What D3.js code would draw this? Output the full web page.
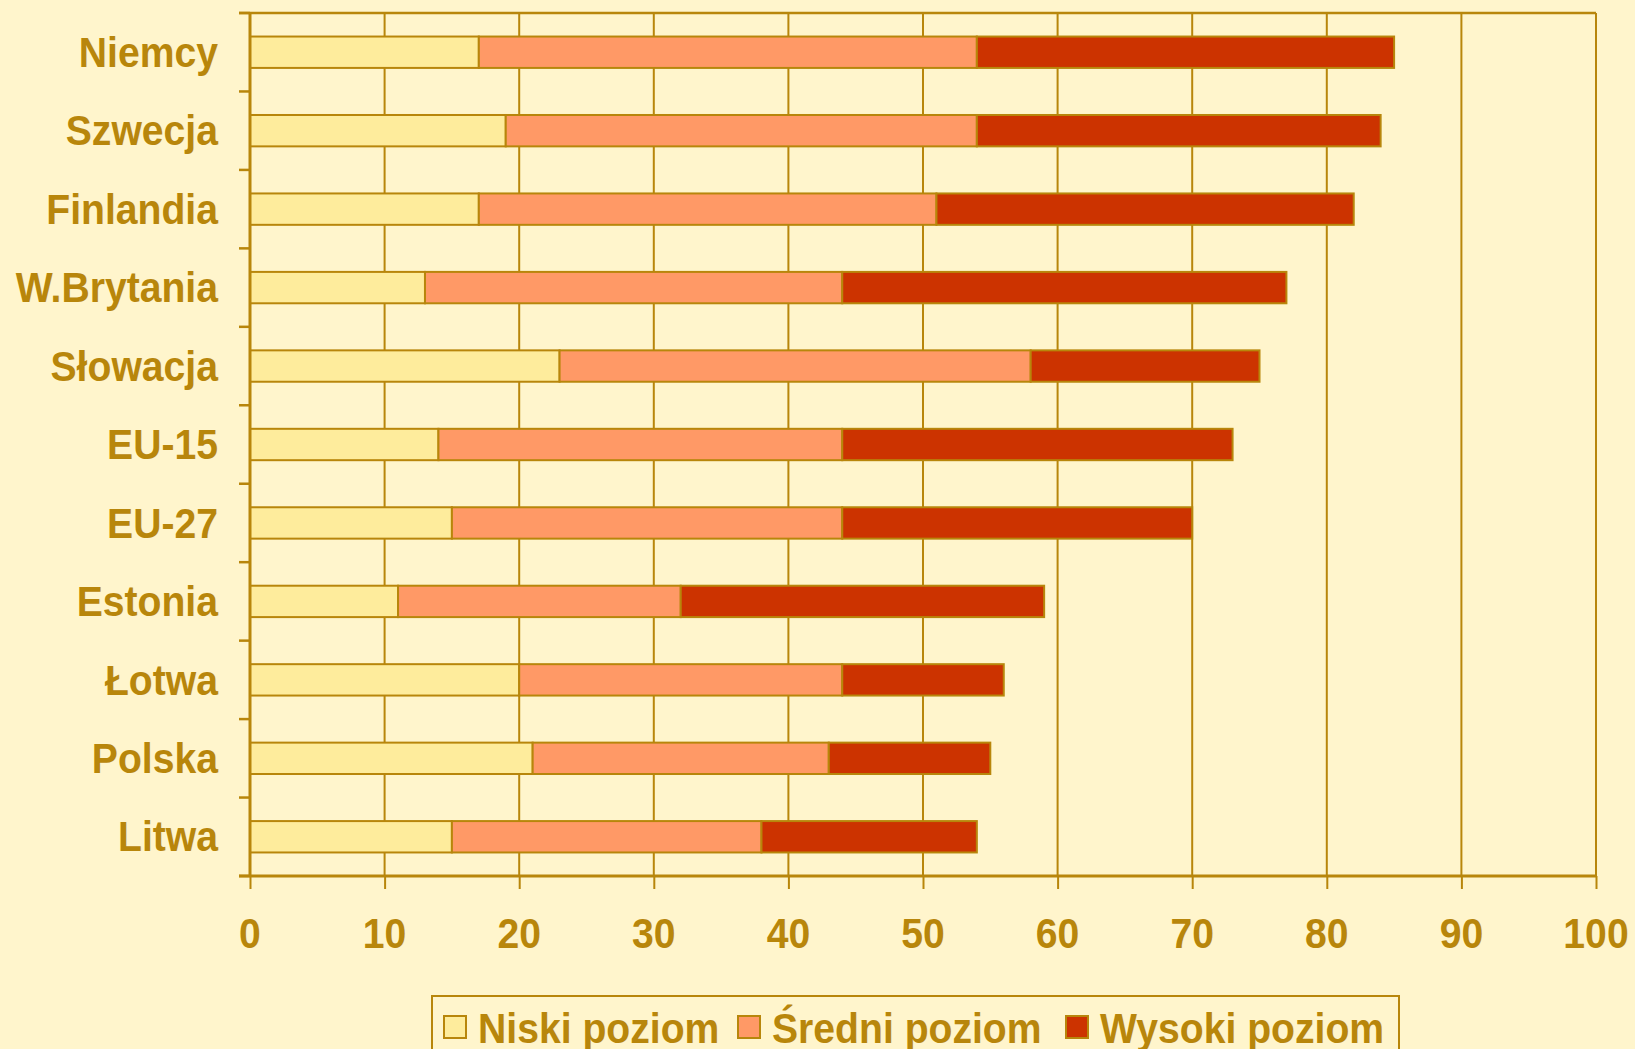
<!DOCTYPE html>
<html>
<head>
<meta charset="utf-8">
<script src="https://cdn.jsdelivr.net/npm/d3@7"></script>
<style>
  body { margin: 0; background: #FFF5CC; }
  svg { display: block; }
  text { font-family: "Liberation Sans", Arial, sans-serif; font-weight: bold; fill: #B8860B; }
</style>
</head>
<body>
<div id="chart"></div>
<script>
const countries = ["Niemcy", "Szwecja", "Finlandia", "W.Brytania", "Słowacja", "EU-15", "EU-27", "Estonia", "Łotwa", "Polska", "Litwa"];
const niski   = [17, 19, 17, 13, 23, 14, 15, 11, 20, 21, 15];
const sredni  = [37, 35, 34, 31, 35, 30, 29, 21, 24, 22, 23];
const wysoki  = [31, 30, 31, 33, 17, 29, 26, 27, 12, 12, 16];
const seriesNames = ["Niski poziom", "Średni poziom", "Wysoki poziom"];
const xTicks = [0, 10, 20, 30, 40, 50, 60, 70, 80, 90, 100];

const gold = "#B8860B";
const colors = ["#FEEC9C", "#FF9966", "#CC3300"];
const squeeze = 0.91;   // the original lettering is a bit narrow

const width = 1635, height = 1049;
const margin = {top: 13, right: 39, bottom: 173, left: 250};

const svg = d3.select("#chart").append("svg")
    .attr("width", width)
    .attr("height", height);

svg.append("rect").attr("width", width).attr("height", height).attr("fill", "#FFF5CC");

const x = d3.scaleLinear()
    .domain([0, 100])
    .range([margin.left, width - margin.right]);

const y = d3.scaleBand()
    .domain(countries)
    .range([margin.top, height - margin.bottom])
    .paddingInner(0.6)
    .paddingOuter(0.3);

// narrow text helper: anchor at (tx,ty), squeeze horizontally
function label(g, tx, ty, str, anchor) {
    return g.append("text")
        .attr("transform", `translate(${tx},${ty}) scale(${squeeze},1)`)
        .attr("text-anchor", anchor)
        .attr("dominant-baseline", "central")
        .style("font-size", "43px")
        .text(str);
}

const plotTop = margin.top, plotBottom = height - margin.bottom;

// vertical gridlines
svg.append("g").selectAll("line")
    .data(xTicks.slice(1))
    .join("line")
    .attr("x1", d => x(d)).attr("x2", d => x(d))
    .attr("y1", plotTop).attr("y2", plotBottom)
    .attr("stroke", gold).attr("stroke-width", 2);

// top border
svg.append("line")
    .attr("x1", x(0) - 11).attr("x2", x(100))
    .attr("y1", plotTop).attr("y2", plotTop)
    .attr("stroke", gold).attr("stroke-width", 2.5);

// stacked bars
const stackData = countries.map((c, i) => ({country: c, niski: niski[i], sredni: sredni[i], wysoki: wysoki[i]}));
const stack = d3.stack().keys(["niski", "sredni", "wysoki"])(stackData);

svg.append("g").selectAll("g")
    .data(stack)
    .join("g")
    .attr("fill", (d, i) => colors[i])
    .selectAll("rect")
    .data(d => d)
    .join("rect")
    .attr("x", d => x(d[0]))
    .attr("y", d => y(d.data.country))
    .attr("width", d => x(d[1]) - x(d[0]))
    .attr("height", y.bandwidth())
    .attr("stroke", gold)
    .attr("stroke-width", 2);

// x axis
const xAxis = svg.append("g")
    .attr("transform", `translate(0,${plotBottom})`)
    .call(d3.axisBottom(x).tickValues(xTicks).tickSize(13).tickFormat(""));
xAxis.select(".domain").attr("stroke", gold).attr("stroke-width", 3)
    .attr("d", `M${x(0) - 11},0H${x(100)}`);
xAxis.selectAll(".tick line").attr("stroke", gold).attr("stroke-width", 2);

xTicks.forEach(t => label(svg, x(t), plotBottom + 57, t, "middle"));

// y axis
const step = y.step();
const yBounds = d3.range(countries.length + 1).map(i => plotTop + i * step);
svg.append("line")
    .attr("x1", x(0)).attr("x2", x(0))
    .attr("y1", plotTop).attr("y2", plotBottom)
    .attr("stroke", gold).attr("stroke-width", 3);
svg.append("g").selectAll("line")
    .data(yBounds)
    .join("line")
    .attr("x1", x(0) - 11).attr("x2", x(0))
    .attr("y1", d => d).attr("y2", d => d)
    .attr("stroke", gold).attr("stroke-width", 2.5);

countries.forEach(c => label(svg, x(0) - 32, y(c) + y.bandwidth() / 2, c, "end"));

// legend
const legend = svg.append("g");
legend.append("rect")
    .attr("x", 432).attr("y", 996)
    .attr("width", 967).attr("height", 70)
    .attr("fill", "none").attr("stroke", gold).attr("stroke-width", 2);

const legendX = [444, 738, 1066];
seriesNames.forEach((name, i) => {
    legend.append("rect")
        .attr("x", legendX[i]).attr("y", 1016)
        .attr("width", 22).attr("height", 22)
        .attr("fill", colors[i])
        .attr("stroke", gold).attr("stroke-width", 2);
    label(legend, legendX[i] + 34, 1028, name, "start");
});
</script>
</body>
</html>
